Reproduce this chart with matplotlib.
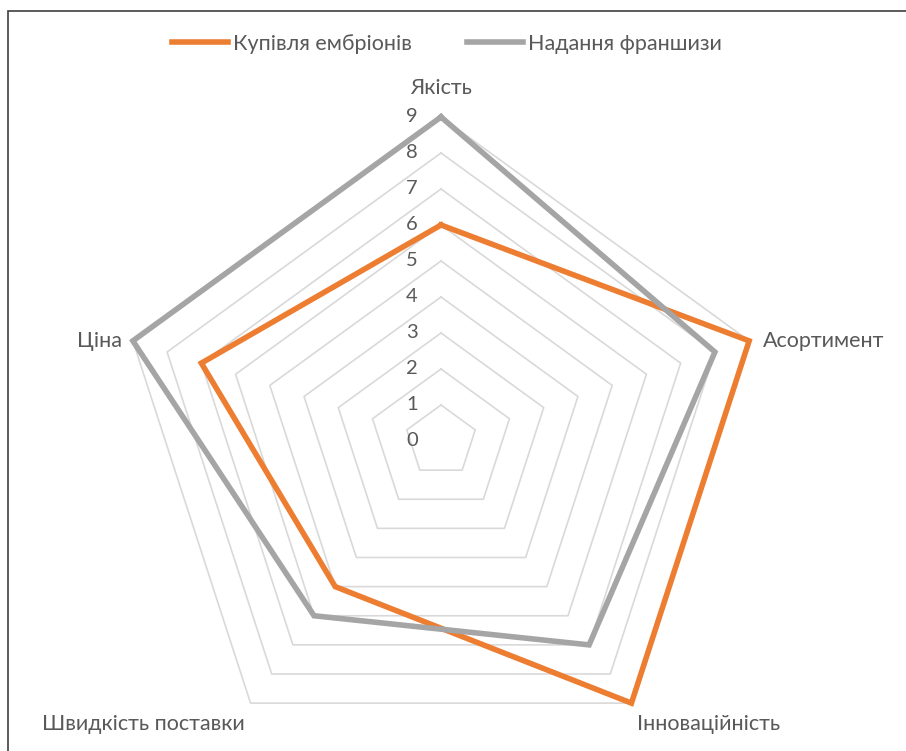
import numpy as np
import matplotlib
matplotlib.use("Agg")
import matplotlib.pyplot as plt
from matplotlib.lines import Line2D
from matplotlib.patches import Rectangle

categories = ["Якість", "Асортимент", "Інноваційність", "Швидкість поставки", "Ціна"]
series_names = ["Купівля ембріонів", "Надання франшизи"]
embryos = [6, 9, 9, 5, 7]
franchise = [9, 8, 7, 6, 9]
rticks = [0, 1, 2, 3, 4, 5, 6, 7, 8, 9]

colors = ["#ED7D31", "#A5A5A5"]
txt = "#595959"
plt.rcParams['font.family'] = ['Lato', 'DejaVu Sans']

W, H = 906, 751
fig = plt.figure(figsize=(W / 100, H / 100), dpi=100)
cx, cy, R = 441, 441, 324
ax = fig.add_axes([(cx - R) / W, (H - cy - R) / H, 2 * R / W, 2 * R / H], projection='polar')
ax.set_theta_zero_location('N')
ax.set_theta_direction(-1)
ax.set_ylim(0, max(rticks))
ax.axis('off')

n = len(categories)
theta = np.arange(n) * 2 * np.pi / n
tc = np.append(theta, theta[0])

for r in rticks[1:]:
    ax.plot(tc, [r] * (n + 1), color="#D9D9D9", lw=1.2, clip_on=False, zorder=1)

for vals, col in zip([embryos, franchise], colors):
    v = np.append(vals, vals[0])
    ax.plot(tc, v, color=col, lw=4, clip_on=False, zorder=3, solid_joinstyle='miter')

for r in rticks:
    ax.annotate(str(r), xy=(0, r), xytext=(-21, 0), textcoords='offset points',
                ha='center', va='center', fontsize=14.5, color=txt, annotation_clip=False)

label_pos = [
    dict(xytext=(0, 14), ha='center', va='bottom'),
    dict(xytext=(10, 0), ha='left', va='center'),
    dict(xytext=(4, -8), ha='left', va='top'),
    dict(xytext=(-4, -8), ha='right', va='top'),
    dict(xytext=(-8, 0), ha='right', va='center'),
]
for t, lab, p in zip(theta, categories, label_pos):
    ax.annotate(lab, xy=(t, max(rticks)), textcoords='offset points', fontsize=15.5,
                color=txt, annotation_clip=False, **p)

handles = [Line2D([], [], color=c, lw=4) for c in colors]
fig.legend(handles, series_names, loc='center', bbox_to_anchor=(447 / W, 1 - 44 / H),
           ncol=2, frameon=False, fontsize=15.5, labelcolor=txt, handlelength=2.6,
           handletextpad=0.2, columnspacing=2.6)

fig.add_artist(Rectangle((8 / W, -0.1), 1.2, 1 - 11 / H + 0.1, transform=fig.transFigure,
                         fill=False, edgecolor="#404040", lw=1.2))

fig.savefig("out.png", dpi=100)
